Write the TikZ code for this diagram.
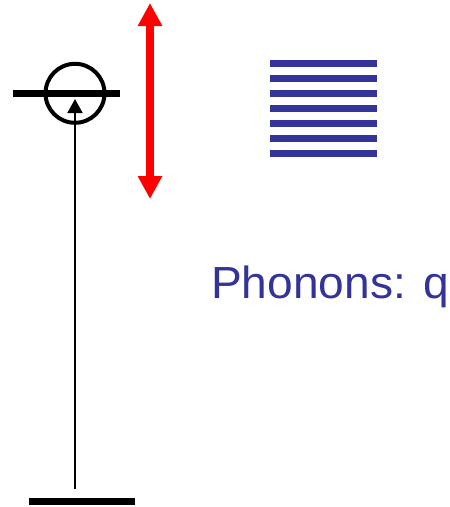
\documentclass[tikz,border=0pt]{standalone}
\usepackage{fontspec}
\setmainfont{Liberation Sans}
\usetikzlibrary{arrows.meta}
\definecolor{phblue}{RGB}{51,51,153}
\definecolor{phred}{RGB}{255,0,0}
\tikzset{
  level/.style={line width=7pt, black},
  band/.style={line width=7.5pt, phblue},
  trans/.style={line width=2pt, black, -{Triangle[width=15pt,length=14pt]}},
  vib/.style={line width=8pt, phred, {Triangle[width=23pt,length=23pt]}-{Triangle[width=23pt,length=23pt]}},
}
\begin{document}
\begin{tikzpicture}[x=1pt,y=-1pt]
\useasboundingbox (0,0) rectangle (450,507);
% levels
\coordinate (upL) at (13,93);
\coordinate (upR) at (120,93);
\coordinate (loL) at (29,501.5);
\coordinate (loR) at (135,501.5);
\draw[level] (upL) -- (upR);
\draw[level] (loL) -- (loR);
% circle
\node[circle, draw=black, line width=4pt, minimum size=59pt, inner sep=0pt] (hole) at (75,93.3) {};
% transition arrow
\coordinate (start) at (75,489);
\coordinate (tip) at (75,99);
\draw[trans] (start) -- (tip);
% red vibration arrow
\coordinate (rtop) at (150,3);
\coordinate (rbot) at (150,199);
\draw[vib] (rbot) -- (rtop);
% phonon bands
\foreach \i in {0,...,6} {
  \coordinate (bl\i) at (270,63.3+15*\i);
  \coordinate (br\i) at (377,63.3+15*\i);
  \draw[band] (bl\i) -- (br\i);
}
% label
\node[anchor=base west, inner sep=0pt, text=phblue, font=\fontsize{45}{54}\selectfont] (lbl) at (211,298.3) {\scalebox{1.025}[1]{Phonons: q}};
\end{tikzpicture}
\end{document}
